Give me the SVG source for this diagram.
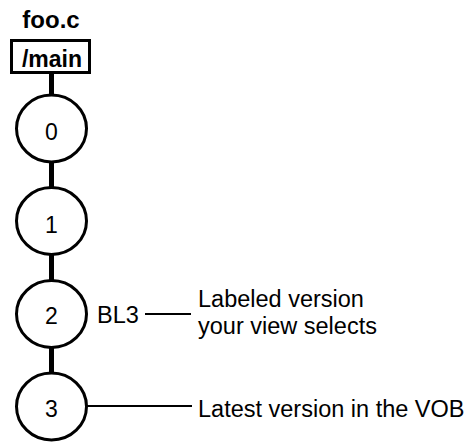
<svg xmlns="http://www.w3.org/2000/svg" width="470" height="444" viewBox="0 0 470 444">
<style>
text{font-family:"Liberation Sans",Arial,sans-serif;fill:#000}
.b{font-weight:bold}
.v{fill:#fff;stroke:#000;stroke-width:3}
.d{font-size:23px;text-anchor:middle}
.t{font-size:23.5px}
.stem{stroke:#000;stroke-width:5}
.ln{stroke:#000;stroke-width:2}
</style>
<rect width="470" height="444" fill="#fff"/>
<text id="title" class="b" x="51" y="28" font-size="24" text-anchor="middle">foo.c</text>
<g id="connectors">
<line class="stem" x1="51.5" y1="73" x2="51.5" y2="96"/>
<line class="stem" x1="51.5" y1="161" x2="51.5" y2="189"/>
<line class="stem" x1="51.5" y1="253" x2="51.5" y2="282"/>
<line class="stem" x1="51.5" y1="346" x2="51.5" y2="374"/>
<line class="ln" x1="145" y1="314" x2="191" y2="314"/>
<line class="ln" x1="86" y1="406" x2="192" y2="406"/>
</g>
<g id="branch">
<rect class="v" x="11.5" y="40.5" width="78" height="32"/>
<text class="b" x="52" y="67" font-size="23" text-anchor="middle">/main</text>
</g>
<g id="v0"><ellipse class="v" cx="51.5" cy="128.5" rx="35" ry="33.5"/><text class="d" x="51.5" y="140">0</text></g>
<g id="v1"><ellipse class="v" cx="51.5" cy="221" rx="35" ry="33.5"/><text class="d" x="51.5" y="232.5">1</text></g>
<g id="v2"><ellipse class="v" cx="51.5" cy="314" rx="35" ry="33.5"/><text class="d" x="51.5" y="323.5">2</text></g>
<g id="v3"><ellipse class="v" cx="51.5" cy="406.5" rx="35" ry="33.5"/><text class="d" x="51.5" y="416.5">3</text></g>
<g id="label-bl3"><text class="t" x="97" y="323">BL3</text></g>
<g id="note-labeled"><text class="t" x="198" y="307">Labeled version</text><text class="t" x="198" y="334">your view selects</text></g>
<g id="note-latest"><text class="t" x="198" y="417">Latest version in the VOB</text></g>
</svg>
